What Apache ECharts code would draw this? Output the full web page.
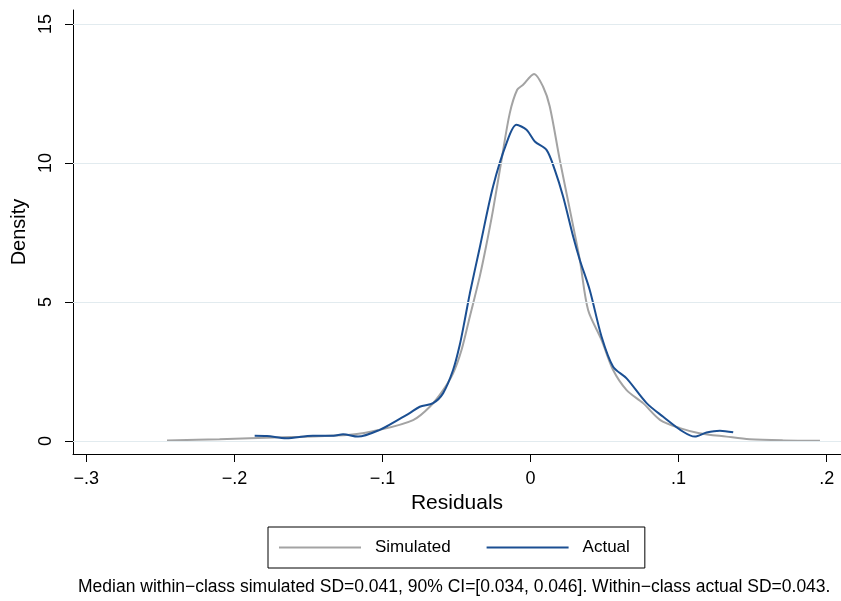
<!DOCTYPE html>
<html>
<head>
<meta charset="utf-8">
<script src="https://cdn.jsdelivr.net/npm/echarts@6/dist/echarts.min.js"></script>
<style>
html,body{margin:0;padding:0;background:#fff;}
#chart{width:841px;height:601px;}
</style>
</head>
<body>
<div id="chart"></div>
<script>
// Data
var simX = [-0.2455,-0.21,-0.1896,-0.156,-0.122,-0.1018,-0.0793,-0.068,-0.059,-0.0523,-0.0466,-0.041,-0.0343,-0.03,-0.0253,-0.0196,-0.014,-0.009,-0.005,0.0024,0.0085,0.013,0.0198,0.0266,0.0333,0.0389,0.048,0.0558,0.0649,0.076,0.0874,0.1009,0.114,0.1324,0.148,0.1707,0.1955];
var simY = [0.02,0.06,0.1,0.15,0.22,0.4,0.75,1.23,1.83,2.43,3.27,4.47,5.91,7.0,8.31,10.1,11.79,12.63,12.81,13.2,12.74,12.03,10.1,8.31,6.51,4.71,3.63,2.55,1.83,1.36,0.76,0.46,0.28,0.155,0.06,0.02,0.01];
var actX = [-0.1863,-0.178,-0.165,-0.147,-0.133,-0.1266,-0.1165,-0.1018,-0.0895,-0.0816,-0.0748,-0.0658,-0.059,-0.0523,-0.0478,-0.0444,-0.041,-0.0343,-0.0253,-0.0162,-0.0095,-0.0027,0.0029,0.0108,0.0164,0.022,0.0288,0.0333,0.040,0.048,0.0558,0.0649,0.0784,0.0896,0.1031,0.111,0.1189,0.1279,0.1369];
var actY = [0.19,0.18,0.1,0.19,0.19,0.24,0.155,0.4,0.76,1.0,1.23,1.36,1.72,2.55,3.45,4.35,5.3,6.95,9.15,10.71,11.37,11.19,10.77,10.47,9.75,8.79,7.35,6.51,5.43,3.75,2.67,2.25,1.36,0.87,0.33,0.155,0.3,0.37,0.31];
var xTicks = [-0.3,-0.2,-0.1,0,0.1,0.2];
var xTickLabels = ['\u2212.3','\u2212.2','\u2212.1','0','.1','.2'];
var yTicks = [0,5,10,15];
var yTickLabels = ['0','5','10','15'];
var seriesNames = ['Simulated','Actual'];
var noteText = 'Median within\u2212class simulated SD=0.041, 90% CI=[0.034, 0.046]. Within\u2212class actual SD=0.043.';

function zip(a,b){return a.map(function(v,i){return [v,b[i]];});}
var FONT = '"Liberation Sans", Arial, Helvetica, sans-serif';

var chart = echarts.init(document.getElementById('chart'), null, {renderer:'canvas'});
chart.setOption({
  animation:false,
  backgroundColor:'#fff',
  textStyle:{fontFamily:FONT, color:'#000'},
  grid:{left:73, right:0, top:10, bottom:147, containLabel:false},
  xAxis:{
    type:'value', min:-0.309, max:0.2097,
    name:'Residuals', nameLocation:'middle', nameGap:37,
    nameTextStyle:{fontSize:21, color:'#000', fontFamily:FONT},
    axisLine:{show:true, onZero:false, lineStyle:{color:'#000', width:1}},
    axisTick:{show:true, inside:false, length:8, customValues:xTicks, lineStyle:{color:'#000'}},
    axisLabel:{show:true, customValues:xTicks, margin:16, fontSize:18, color:'#000', fontFamily:FONT,
      formatter:function(v){var i=xTicks.findIndex(function(t){return Math.abs(t-v)<1e-9;});return i>=0?xTickLabels[i]:'';}},
    splitLine:{show:false}
  },
  yAxis:{
    type:'value', min:-0.47, max:15.5,
    name:'Density', nameLocation:'middle', nameGap:36,
    nameTextStyle:{fontSize:20, color:'#000', fontFamily:FONT},
    axisLine:{show:true, onZero:false, lineStyle:{color:'#000', width:1}},
    axisTick:{show:true, inside:false, length:8, customValues:yTicks, lineStyle:{color:'#000'}},
    axisLabel:{show:true, customValues:yTicks, rotate:90, margin:18, fontSize:18, color:'#000', fontFamily:FONT,
      formatter:function(v){var i=yTicks.findIndex(function(t){return Math.abs(t-v)<1e-9;});return i>=0?yTickLabels[i]:'';}},
    splitLine:{show:false}
  },
  legend:{
    show:true, orient:'horizontal', left:268, top:527,
    data:seriesNames,
    icon:'rect',
    borderColor:'#000', borderWidth:1, borderRadius:0,
    padding:[12,15,12,11],
    itemWidth:82, itemHeight:2, itemGap:36,
    textStyle:{fontSize:17, color:'#000', fontFamily:FONT, padding:[0,0,0,9], lineHeight:17}
  },
  title:{
    text:noteText, left:78, top:578,
    padding:0,
    textStyle:{fontSize:17.5, fontWeight:'normal', color:'#000', fontFamily:FONT}
  },
  series:[
    {
      name:'Simulated', type:'line', data:zip(simX,simY),
      showSymbol:false, symbol:'none', smooth:0.3,
      lineStyle:{color:'#a3a3a3', width:2}, itemStyle:{color:'#a3a3a3'},
      z:2,
      markLine:{
        silent:true, symbol:'none', label:{show:false}, animation:false,
        lineStyle:{color:'#e2ebef', width:1, type:'solid'},
        data:yTicks.map(function(t){return {yAxis:t};})
      }
    },
    {
      name:'Actual', type:'line', data:zip(actX,actY),
      showSymbol:false, symbol:'none', smooth:0.3,
      lineStyle:{color:'#1b4f92', width:2}, itemStyle:{color:'#1b4f92'},
      z:3
    }
  ]
});
</script>
</body>
</html>
